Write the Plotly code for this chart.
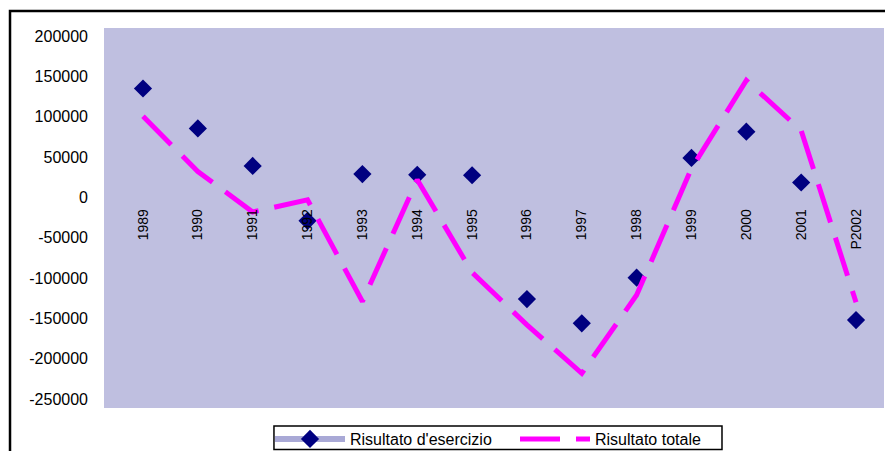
import plotly.graph_objects as go

# Categories (years) and the two series
anni = ["1989", "1990", "1991", "1992", "1993", "1994", "1995",
        "1996", "1997", "1998", "1999", "2000", "2001", "P2002"]

risultato_esercizio = [135000, 85500, 39000, -29000, 29000, 28000, 27500,
                       -126000, -156000, -99500, 49000, 81500, 18500, -152000]

risultato_totale = [100500, 32000, -18000, -3000, -129000, 22000, -93000,
                    -158000, -218000, -121000, 36000, 145000, 83000, -130000]

# Y tick labels (plain hyphen minus, no thousands separators)
y_tick_vals = [200000, 150000, 100000, 50000, 0, -50000,
               -100000, -150000, -200000, -250000]
y_tick_text = ["200000", "150000", "100000", "50000", "0", "-50000",
               "-100000", "-150000", "-200000", "-250000"]

FONT = "Liberation Sans, Arial, sans-serif"
NAVY = "#000080"
MAGENTA = "#FF00FF"

fig = go.Figure()

# Diamonds for "Risultato d'esercizio"
fig.add_trace(go.Scatter(
    x=anni, y=risultato_esercizio,
    mode="markers",
    marker=dict(symbol="diamond", size=14, color=NAVY, line=dict(width=0)),
    name="Risultato d'esercizio",
    legendgroup="es",
    showlegend=False,
))
# legend entry with the patterned band behind the diamond
fig.add_trace(go.Scatter(
    x=[None], y=[None],
    mode="lines+markers",
    line=dict(color="#A9A9D6", width=6),
    marker=dict(symbol="diamond", size=14, color=NAVY, line=dict(width=0)),
    name="Risultato d'esercizio",
    legendgroup="es",
))

# Dashed magenta line for "Risultato totale"
fig.add_trace(go.Scatter(
    x=anni, y=risultato_totale,
    mode="lines",
    line=dict(color=MAGENTA, width=5, dash="40px,16px"),
    name="Risultato totale",
))

# Outer chart frame (top and left edges visible)
fig.add_shape(
    type="rect", xref="paper", yref="paper",
    x0=-0.1205, x1=1.2, y0=-0.3, y1=1.0447,
    line=dict(color="black", width=2.5),
    fillcolor="rgba(0,0,0,0)", layer="above",
)
# Legend frame
fig.add_shape(
    type="rect", xref="paper", yref="paper",
    x0=0.2179, x1=0.7923, y0=-0.1092, y1=-0.0474,
    line=dict(color="black", width=1.5),
    fillcolor="rgba(0,0,0,0)", layer="above",
)

fig.update_layout(
    width=885, height=451,
    margin=dict(l=104, r=1, t=28, b=43, autoexpand=False),
    paper_bgcolor="white",
    plot_bgcolor="#BFBFE0",
    font=dict(family=FONT, size=16, color="black"),
    xaxis=dict(
        type="category",
        range=[-0.711, 13.51],
        showgrid=False, zeroline=False, showline=False,
        ticks="", tickangle=-90,
        tickfont=dict(size=14),
        anchor="free", position=0.5545,
        ticklabelstandoff=8,
        automargin=False,
    ),
    yaxis=dict(
        range=[-261000, 210000],
        showgrid=False, zeroline=False, showline=False,
        ticks="",
        tickvals=y_tick_vals, ticktext=y_tick_text,
        tickfont=dict(size=16),
        ticklabelstandoff=15,
        automargin=False,
    ),
    legend=dict(
        orientation="h",
        x=(270 - 104) / 780, y=-0.0368, xanchor="left", yanchor="top",
        bgcolor="rgba(0,0,0,0)", borderwidth=0,
        font=dict(size=16),
        itemwidth=70,
        entrywidth=160,
    ),
)

fig.write_html("out.html")
